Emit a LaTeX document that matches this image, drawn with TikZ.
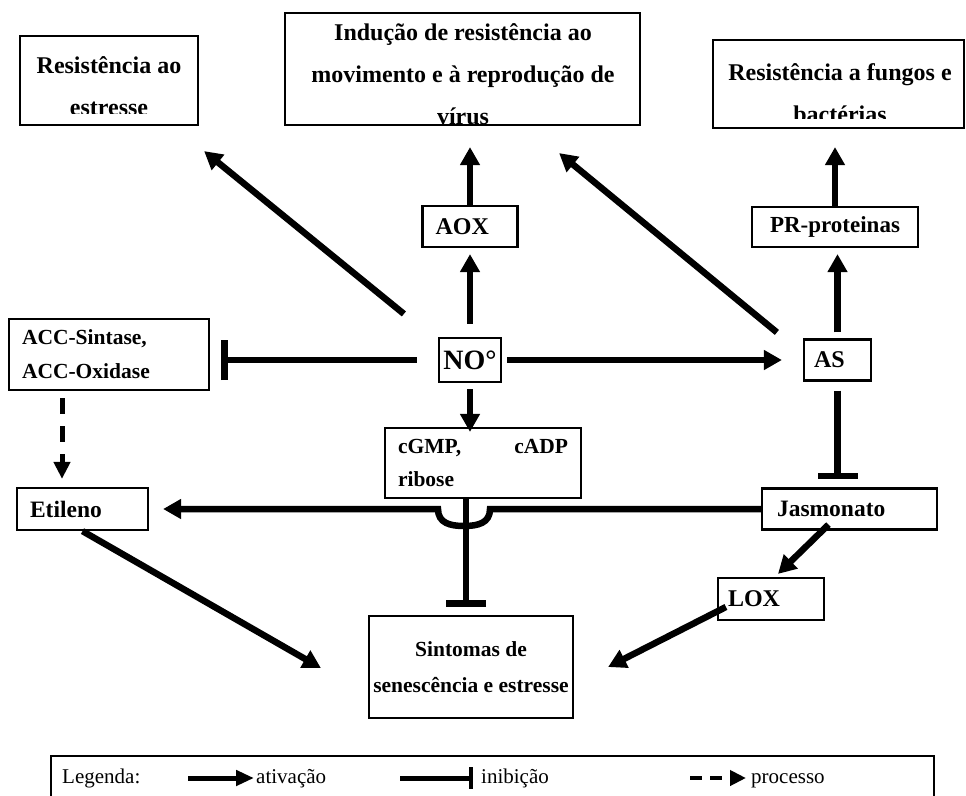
\documentclass[tikz,border=0pt]{standalone}
\usepackage{fontspec}
\setmainfont{Liberation Serif}
\usetikzlibrary{arrows.meta}

\tikzset{
  box/.style={draw, line width=2.2pt, inner sep=0pt},
  act/.style={line width=6.5pt, -{Triangle[length=18pt,width=19pt]}},
  inh/.style={line width=6.5pt, -{Bar[width=40pt]}},
  proc/.style={line width=5pt, dash pattern=on 16pt off 12pt, -{Triangle[length=17pt,width=16pt]}},
  tbig/.style={font=\fontsize{24}{42}\selectfont\bfseries},
  tmid/.style={font=\fontsize{21.5}{34}\selectfont\bfseries},
  tleg/.style={font=\fontsize{21}{24}\selectfont, inner sep=0pt, anchor=base west},
}

\begin{document}
\begin{tikzpicture}[x=1pt,y=-1pt]
    \useasboundingbox (0,0) rectangle (966,795);

    % Effects (text cut at the bottom of the boxes)
    \node[box, minimum width=178pt, minimum height=89pt] (res) at (109,80.5) {};
    \node[box, minimum width=355pt, minimum height=112pt] (ind) at (462.5,69) {};
    \node[box, minimum width=251pt, minimum height=88pt] (fung) at (838.5,84) {};
    \begin{scope}
        \clip (res.north west) rectangle ([yshift=13pt]res.south east);
        \node[tbig, anchor=north, align=center, inner sep=0pt] (restxt) at (109,56) {Resistência ao\\estresse};
    \end{scope}
    \begin{scope}
        \clip (ind.north west) rectangle ([yshift=2pt]ind.south east);
        \node[tbig, anchor=north, align=center, inner sep=0pt] (indtxt) at (463,23) {Indução de resistência ao\\movimento e à reprodução de\\vírus};
    \end{scope}
    \begin{scope}
        \clip (fung.north west) rectangle ([yshift=11pt]fung.south east);
        \node[tbig, anchor=north, align=center, inner sep=0pt] (fungtxt) at (840,63) {Resistência a fungos e\\bactérias};
    \end{scope}

    % Boxes
    \node[box, tbig, minimum width=95pt, minimum height=41pt, text width=69pt, align=left] (aox) at (470,226.5) {AOX};
    \node[box, font=\fontsize{23}{30}\selectfont\bfseries, minimum width=166pt, minimum height=40pt] (pr) at (835,227) {PR-proteinas};
    \node[box, tmid, minimum width=200pt, minimum height=71pt, text width=174pt, align=left] (acc) at (109,354.5) {ACC-Sintase,\\ACC-Oxidase};
    \node[box, font=\fontsize{28}{30}\selectfont\bfseries, minimum width=62pt, minimum height=44pt] (no) at (470,360) {NO°};
    \node[box, font=\fontsize{24}{30}\selectfont\bfseries, minimum width=67pt, minimum height=41pt, text width=47pt, align=left] (as) at (837.5,360) {AS};
    \node[box, font=\fontsize{21.5}{33}\selectfont\bfseries, minimum width=196pt, minimum height=70pt, text width=170pt, align=left] (cgmp) at (483,463) {cGMP,\hfill cADP\\ribose};
    \node[box, font=\fontsize{23.5}{30}\selectfont\bfseries, minimum width=131pt, minimum height=42pt, text width=105pt, align=left] (eti) at (82.5,509) {Etileno};
    \node[box, font=\fontsize{23.5}{30}\selectfont\bfseries, minimum width=175pt, minimum height=41pt, text width=145pt, align=left] (jas) at (849.5,509) {Jasmonato};
    \node[box, tbig, minimum width=106pt, minimum height=42pt, text width=86pt, align=left] (lox) at (771,599) {LOX};
    \node[box, font=\fontsize{21.5}{36}\selectfont\bfseries, minimum width=204pt, minimum height=102pt, align=center] (sint) at (471,667) {Sintomas de\\senescência e estresse};

    % Activation
    \draw[act] ([shift={(-34,-23)}]no.north west) -- ([shift={(5,25)}]res.south east);
    \draw[act, shorten <=13pt, shorten >=6pt] (no.north) -- (aox.south);
    \draw[act, shorten >=21pt] (aox.north) -- (aox.north |- ind.south);
    \draw[act] ([shift={(-26,-6)}]as.north west) -- ([shift={(-82,27)}]ind.south east);
    \draw[act, shorten <=6pt, shorten >=6pt] (as.north) -- (as.north |- pr.south);
    \draw[act, shorten >=18pt] (pr.north) -- (pr.north |- fung.south);
    \draw[act, shorten <=5pt, shorten >=21pt] (no.east) -- (as.west);
    \draw[act, shorten <=6pt, shorten >=-5pt] (no.south) -- (no.south |- cgmp.north);
    \draw[act, shorten >=14pt] (jas.west) -- (490,509) .. controls (490,523) and (478,526) .. (464,526)
        .. controls (450,526) and (438,523) .. (438,509) -- (eti.east);
    \draw[act] ([shift={(-21,-6)}]jas.south) -- ([shift={(7,-3)}]lox.north);
    \draw[act] ([shift={(9,8)}]lox.west) -- ([shift={(34,0)}]sint.east);
    \draw[act] (eti.south) -- ([shift={(-47,1)}]sint.west);

    % Inhibition
    \draw[inh, shorten <=21pt, shorten >=11pt] (no.west) -- (no.west -| acc.east);
    \draw[inh, shorten <=9pt, shorten >=8pt] (as.south) -- (as.south |- jas.north);
    \draw[inh, shorten >=8pt] ([xshift=-17pt]cgmp.south) -- ([xshift=-17pt]cgmp.south |- sint.north);

    % Process
    \draw[proc, shorten <=7pt, shorten >=8pt] ([xshift=-47pt]acc.south) -- ([xshift=-47pt]acc.south |- eti.north);

    % Legend
    \node[box, minimum width=883pt, minimum height=60pt, anchor=north west] (leg) at (50,755) {};
    \node[tleg] (legtit) at (62,783) {Legenda:};
    \node[tleg] (lact) at (256,783) {ativação};
    \node[tleg] (linh) at (481,783) {inibição};
    \node[tleg] (lproc) at (751,783) {processo};
    \draw[line width=5pt, -{Triangle[length=18pt,width=15pt]}] ([shift={(-68,-5)}]lact.base west) -- ([shift={(-2,-5)}]lact.base west);
    \draw[line width=5pt, -{Bar[width=22pt,line width=4pt]}] ([shift={(-81,-5)}]linh.base west) -- ([shift={(-8,-5)}]linh.base west);
    \draw[line width=4pt, dash pattern=on 12pt off 8pt, -{Triangle[length=16pt,width=15pt]}] ([shift={(-61,-5)}]lproc.base west) -- ([shift={(-5,-5)}]lproc.base west);
\end{tikzpicture}
\end{document}
